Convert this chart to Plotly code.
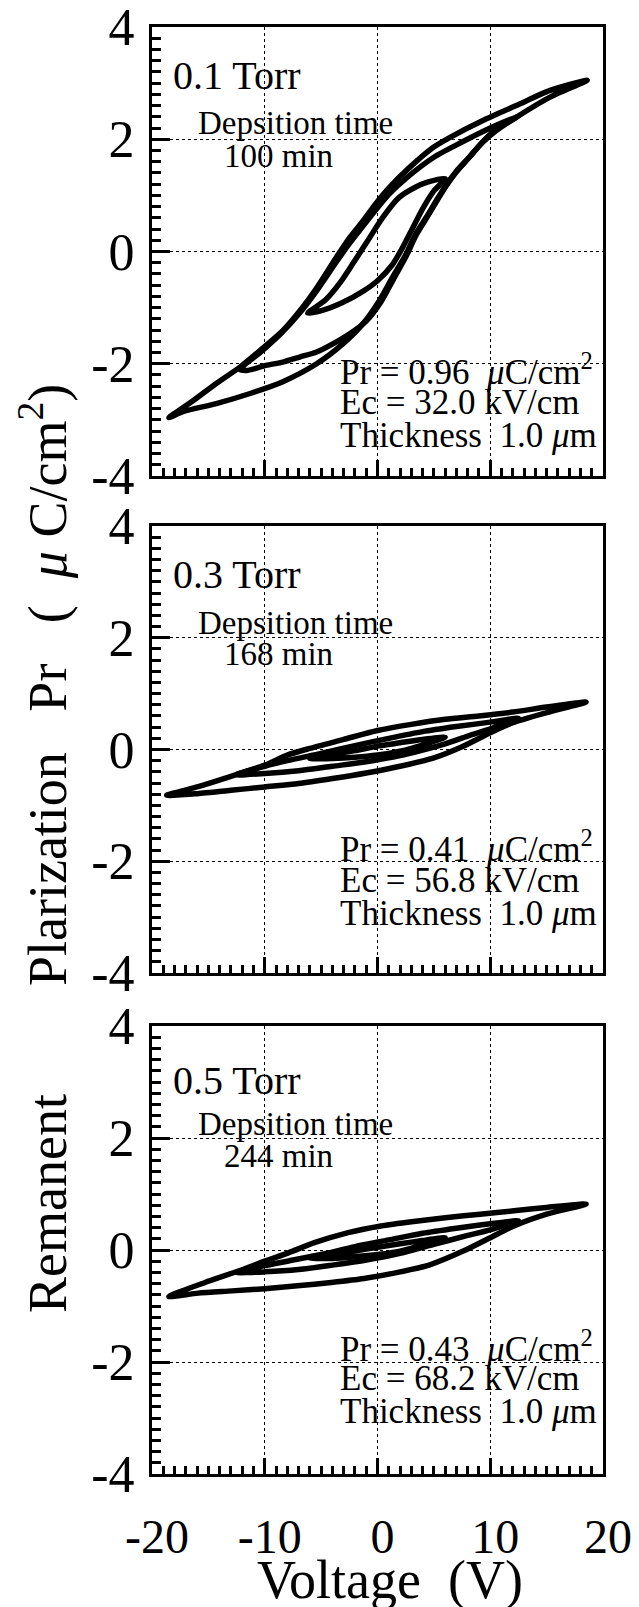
import plotly.graph_objects as go

W, H = 639, 1607
FONT = "Liberation Serif, Times New Roman, serif"

# ---------------- data ----------------
pressures = ["0.1 Torr", "0.3 Torr", "0.5 Torr"]
dep_times = ["100 min", "168 min", "244 min"]
pr_values = ["0.96", "0.41", "0.43"]
ec_values = ["32.0", "56.8", "68.2"]
thickness = ["1.0", "1.0", "1.0"]

x_tickvals = [-20, -10, 0, 10, 20]
x_ticktext = ["-20", "-10", "0", "10", "20"]
y_tickvals = [-4, -2, 0, 2, 4]
y_ticktext = ["-4", "-2", "0", "2", "4"]

# Panel 1 (0.1 Torr) -- each loop: upper branch (+tip -> -tip) then lower branch (-tip -> +tip)
p1_outer_v = [18.6, 15.3, 12.3, 9.3, 6.4, 4.9, 2.8, 1.0, -0.2, -1.3, -2.5, -3.7, -5.4, -6.9, -8.4, -10.4, -12.2, -14.3, -16.3, -18.5,
              -17.2, -14.3, -11.3, -8.4, -5.4, -3.1, -1.3, 0.15, 1.3, 2.5, 3.4, 4.3, 5.2, 6.1, 7.0, 8.1, 9.3, 10.5, 12.3, 15.3, 18.6]
p1_outer_p = [3.05, 2.87, 2.6, 2.33, 2.03, 1.85, 1.49, 1.13, 0.84, 0.54, 0.24, -0.12, -0.65, -1.06, -1.41, -1.76, -2.06, -2.35, -2.65, -2.96,
              -2.85, -2.71, -2.53, -2.32, -2.0, -1.65, -1.29, -0.88, -0.47, -0.06, 0.32, 0.6, 0.9, 1.19, 1.43, 1.67, 1.94, 2.15, 2.39, 2.75, 3.05]
p1_mid_v = [12.5, 10.0, 7.5, 5.0, 2.5, 1.0, 0.0, -1.3, -2.5, -3.7, -5.4, -7.0, -8.5, -10.4, -12.2,
            -11.6, -9.9, -8.4, -6.9, -5.4, -4.0, -2.5, -1.0, 0.3, 1.4, 2.5, 3.4, 4.3, 5.2, 6.1, 7.0, 8.1, 9.3, 10.5, 12.5]
p1_mid_p = [2.42, 2.2, 1.95, 1.68, 1.3, 1.02, 0.78, 0.45, 0.14, -0.2, -0.7, -1.12, -1.45, -1.8, -2.1,
            -2.12, -2.03, -1.97, -1.88, -1.79, -1.65, -1.47, -1.24, -0.9, -0.5, -0.1, 0.28, 0.58, 0.88, 1.17, 1.42, 1.67, 1.95, 2.17, 2.42]
p1_small_v = [6.0, 4.5, 3.4, 1.9, 0.44, -1.0, -2.2, -3.3, -4.6, -6.2,
              -4.9, -3.1, -1.3, 0.0, 1.3, 2.2, 3.1, 4.0, 5.0, 6.0]
p1_small_p = [1.3, 1.24, 1.15, 0.96, 0.6, 0.15, -0.22, -0.55, -0.86, -1.1,
              -1.05, -0.91, -0.71, -0.52, -0.24, 0.06, 0.41, 0.76, 1.08, 1.3]

# Panel 2 (0.3 Torr)
p2_outer_v = [18.5, 15.0, 12.0, 9.0, 6.0, 3.0, 0.0, -3.0, -6.0, -8.0, -10.0, -13.0, -16.0, -18.7,
              -16.0, -13.0, -10.0, -7.0, -4.0, -1.0, 2.0, 5.0, 7.5, 10.0, 12.0, 15.0, 18.5]
p2_outer_p = [0.85, 0.76, 0.67, 0.6, 0.54, 0.45, 0.34, 0.18, 0.02, -0.1, -0.28, -0.48, -0.67, -0.82,
              -0.79, -0.73, -0.67, -0.61, -0.52, -0.42, -0.3, -0.15, 0.05, 0.3, 0.48, 0.66, 0.85]
p2_mid_v = [12.5, 10.0, 7.0, 4.0, 1.0, -2.0, -5.0, -8.0, -10.0, -12.5,
            -10.0, -7.0, -4.0, -1.0, 2.0, 4.0, 6.0, 8.0, 10.0, 12.5]
p2_mid_p = [0.56, 0.49, 0.41, 0.32, 0.2, 0.07, -0.07, -0.2, -0.3, -0.45,
            -0.43, -0.38, -0.3, -0.22, -0.11, -0.01, 0.1, 0.24, 0.37, 0.56]
p2_small_v = [6.0, 4.0, 2.0, 0.0, -2.0, -4.0, -6.0,
              -4.0, -2.0, 0.0, 2.0, 4.0, 6.0]
p2_small_p = [0.22, 0.18, 0.12, 0.06, -0.02, -0.09, -0.16,
              -0.16, -0.14, -0.1, -0.03, 0.08, 0.22]

# Panel 3 (0.5 Torr)
p3_outer_v = [18.5, 15.0, 12.1, 9.1, 6.2, 3.2, 0.3, -2.6, -5.6, -7.9, -10.0, -12.4, -15.3, -18.5,
              -15.9, -12.9, -10.0, -7.1, -4.1, -1.2, 1.8, 4.7, 7.6, 10.0, 12.1, 15.0, 18.5]
p3_outer_p = [0.82, 0.76, 0.7, 0.64, 0.58, 0.51, 0.43, 0.31, 0.13, -0.05, -0.2, -0.38, -0.58, -0.83,
              -0.77, -0.73, -0.69, -0.64, -0.58, -0.51, -0.4, -0.26, -0.02, 0.22, 0.43, 0.64, 0.82]
p3_mid_v = [12.5, 10.0, 7.0, 4.0, 1.0, -2.0, -5.0, -8.0, -10.0, -12.5,
            -10.0, -7.0, -4.0, -1.0, 2.0, 5.0, 8.0, 10.0, 12.5]
p3_mid_p = [0.52, 0.47, 0.39, 0.3, 0.18, 0.06, -0.08, -0.2, -0.28, -0.4,
            -0.39, -0.35, -0.27, -0.18, -0.06, 0.1, 0.26, 0.36, 0.52]
p3_small_v = [6.0, 4.0, 2.0, 0.0, -2.0, -4.0, -6.0,
              -4.0, -2.0, 0.0, 2.0, 4.0, 6.0]
p3_small_p = [0.22, 0.17, 0.11, 0.05, -0.02, -0.08, -0.15,
              -0.15, -0.12, -0.08, -0.02, 0.09, 0.22]

panels = [
    [(p1_outer_v, p1_outer_p), (p1_mid_v, p1_mid_p), (p1_small_v, p1_small_p)],
    [(p2_outer_v, p2_outer_p), (p2_mid_v, p2_mid_p), (p2_small_v, p2_small_p)],
    [(p3_outer_v, p3_outer_p), (p3_mid_v, p3_mid_p), (p3_small_v, p3_small_p)],
]

# ---------------- layout geometry (pixels) ----------------
X_LEFT, X_RIGHT = 152, 603
PANEL_TB = [(27, 476), (526, 973), (1026, 1474)]


def px_x(px):
    return px / W


def px_y(py):
    return 1 - py / H


fig = go.Figure()

for i, loops in enumerate(panels):
    ax = "" if i == 0 else str(i + 1)
    for v, p in loops:
        fig.add_trace(go.Scatter(
            x=v, y=p, mode="lines",
            line=dict(color="black", width=5.5, shape="spline", smoothing=0.7),
            xaxis="x" + ax, yaxis="y" + ax, showlegend=False, hoverinfo="skip",
        ))

xtickfont = dict(family=FONT, size=48, color="black")
ytickfont = dict(family=FONT, size=52, color="black")
layout = dict(
    width=W, height=H,
    margin=dict(l=0, r=0, t=0, b=0, pad=0, autoexpand=False),
    paper_bgcolor="white", plot_bgcolor="white",
    showlegend=False,
    font=dict(family=FONT, color="black"),
)

for i, (top, bot) in enumerate(PANEL_TB):
    ax = "" if i == 0 else str(i + 1)
    layout["xaxis" + ax] = dict(
        domain=[px_x(X_LEFT), px_x(X_RIGHT)],
        anchor="y" + ax,
        range=[-20, 20],
        automargin=False,
        tickmode="array", tickvals=x_tickvals, ticktext=x_ticktext,
        ticks="inside", ticklen=16, tickwidth=3, tickcolor="black",
        showline=True, linewidth=3, linecolor="black", mirror=True,
        showgrid=True, gridcolor="black", griddash="dot", gridwidth=1.3,
        zeroline=False,
        showticklabels=(i == 2),
        tickfont=xtickfont,
        ticklabelstandoff=18,
        ticklabelshift=5,
        ticklabeloverflow="allow",
        minor=dict(tickmode="linear", tick0=0, dtick=1, ticks="inside",
                   ticklen=8, tickwidth=2.5, tickcolor="black", showgrid=False),
        fixedrange=True,
    )
    layout["yaxis" + ax] = dict(
        domain=[px_y(bot), px_y(top)],
        anchor="x" + ax,
        range=[-4, 4],
        automargin=False,
        tickmode="array", tickvals=y_tickvals, ticktext=y_ticktext,
        ticks="inside", ticklen=18, tickwidth=3, tickcolor="black",
        showline=True, linewidth=3, linecolor="black", mirror=True,
        showgrid=True, gridcolor="black", griddash="dot", gridwidth=1.3,
        zeroline=False,
        tickfont=ytickfont,
        ticklabelstandoff=4,
        ticklabeloverflow="allow",
        minor=dict(tickmode="linear", tick0=0, dtick=0.2, ticks="inside",
                   ticklen=9, tickwidth=2.5, tickcolor="black", showgrid=False),
        fixedrange=True,
    )

fig.update_layout(**layout)

NB = "\u00a0"
annotations = []

# per-panel text (pixel positions)
torr_y = [76, 574, 1080]
dep_y = [123, 623, 1124]
min_y = [156, 654, 1156]
pr_y = [370, 847, 1346]
ec_y = [402, 880, 1378]
th_y = [436, 913, 1411]

for i in range(3):
    annotations.append(dict(text=pressures[i], x=px_x(171), y=px_y(torr_y[i]), xref="paper", yref="paper",
                            xanchor="left", yanchor="middle", showarrow=False,
                            font=dict(family=FONT, size=40, color="black")))
    annotations.append(dict(text="Depsition time", x=px_x(295), y=px_y(dep_y[i]), xref="paper", yref="paper",
                            xanchor="center", yanchor="middle", showarrow=False,
                            font=dict(family=FONT, size=33, color="black")))
    annotations.append(dict(text=dep_times[i], x=px_x(278), y=px_y(min_y[i]), xref="paper", yref="paper",
                            xanchor="center", yanchor="middle", showarrow=False,
                            font=dict(family=FONT, size=33, color="black")))
    annotations.append(dict(text=f"Pr = {pr_values[i]}{NB}{NB}<i>μ</i>C/cm<sup>2</sup>", x=px_x(338), y=px_y(pr_y[i]),
                            xref="paper", yref="paper", xanchor="left", yanchor="middle", showarrow=False,
                            font=dict(family=FONT, size=35, color="black")))
    annotations.append(dict(text=f"Ec = {ec_values[i]} kV/cm", x=px_x(338), y=px_y(ec_y[i]),
                            xref="paper", yref="paper", xanchor="left", yanchor="middle", showarrow=False,
                            font=dict(family=FONT, size=35, color="black")))
    annotations.append(dict(text=f"Thickness{NB}{NB}{thickness[i]}{NB}<i>μ</i>m", x=px_x(338), y=px_y(th_y[i]),
                            xref="paper", yref="paper", xanchor="left", yanchor="middle", showarrow=False,
                            font=dict(family=FONT, size=35, color="black")))

ytitle = ("Remanent" + NB * 8 + "Plarization" + NB * 3 + "Pr" + NB * 3 + "(" + NB * 2 +
          "<i>μ</i>" + NB + "C/cm<sup>2</sup>)")
annotations.append(dict(text=ytitle, x=px_x(43), y=px_y(849), xref="paper", yref="paper",
                        xanchor="center", yanchor="middle", textangle=-90, showarrow=False,
                        font=dict(family=FONT, size=54, color="black")))
annotations.append(dict(text="Voltage" + NB * 2 + "(V)", x=px_x(390), y=px_y(1580), xref="paper", yref="paper",
                        xanchor="center", yanchor="middle", showarrow=False,
                        font=dict(family=FONT, size=54, color="black")))

fig.update_layout(annotations=annotations)

fig.write_html("out.html")
